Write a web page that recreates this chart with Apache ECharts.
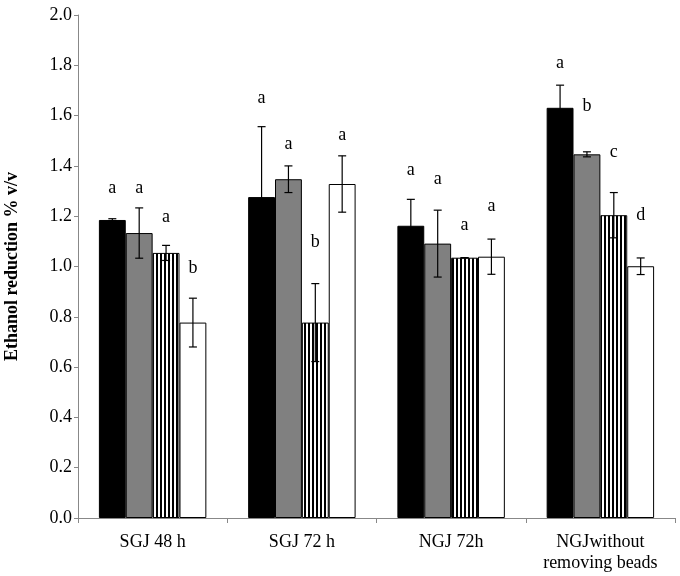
<!DOCTYPE html>
<html>
<head>
<meta charset="utf-8">
<script src="https://cdn.jsdelivr.net/npm/echarts@6/dist/echarts.min.js"></script>
<style>
  html, body { margin: 0; padding: 0; background: #fff; }
  #chart { width: 680px; height: 576px; }
</style>
</head>
<body>
<div id="chart"></div>
<script>
// categories on the x axis
const categories = ['SGJ 48 h', 'SGJ 72 h', 'NGJ 72h', 'NGJwithout\nremoving beads'];

// four treatments per group: black, gray, striped, white
const blackVals = [1.185, 1.276, 1.162, 1.631];
const grayVals = [1.133, 1.347, 1.091, 1.446];
const stripeVals = [1.054, 0.777, 1.035, 1.204];
const whiteVals = [0.777, 1.328, 1.039, 1.001];

// error (+/-) for each bar
const blackErr = [0.005, 0.28, 0.105, 0.09];
const grayErr = [0.1, 0.053, 0.133, 0.01];
const stripeErr = [0.03, 0.155, 0.0, 0.09];
const whiteErr = [0.097, 0.112, 0.07, 0.033];

// significance letters and the height they sit at
const blackLetters = ['a', 'a', 'a', 'a'];
const grayLetters = ['a', 'a', 'a', 'b'];
const stripeLetters = ['a', 'b', 'a', 'c'];
const whiteLetters = ['b', 'a', 'a', 'd'];
const blackLetterY = [1.312, 1.667, 1.384, 1.81];
const grayLetterY = [1.312, 1.487, 1.347, 1.638];
const stripeLetterY = [1.197, 1.097, 1.165, 1.456];
const whiteLetterY = [0.994, 1.52, 1.238, 1.205];

// y axis ticks
const yMin = 0, yMax = 2, yStep = 0.2;

const FONT = '"Times New Roman", "Liberation Serif", serif';
const GAP = 0.28; // barCategoryGap as a fraction

// vertical stripes pattern
const stripeCanvas = document.createElement('canvas');
stripeCanvas.width = 4;
stripeCanvas.height = 4;
const sctx = stripeCanvas.getContext('2d');
sctx.fillStyle = '#fff';
sctx.fillRect(0, 0, 4, 4);
sctx.fillStyle = '#000';
sctx.fillRect(0, 0, 2, 4);

const seriesDefs = [
  { vals: blackVals, err: blackErr, letters: blackLetters, ly: blackLetterY, color: '#000000' },
  { vals: grayVals, err: grayErr, letters: grayLetters, ly: grayLetterY, color: '#808080' },
  { vals: stripeVals, err: stripeErr, letters: stripeLetters, ly: stripeLetterY,
    color: { image: stripeCanvas, repeat: 'repeat' } },
  { vals: whiteVals, err: whiteErr, letters: whiteLetters, ly: whiteLetterY, color: '#ffffff' }
];

// x centre of bar k within a category band
function barX(api, catIdx, k) {
  const band = api.size([1, 0])[0];
  const w = band * (1 - GAP) / 4;
  const c = api.coord([catIdx, 0])[0];
  return c + (k - 1.5) * w;
}

const series = [];
seriesDefs.forEach((s, k) => {
  series.push({
    type: 'bar',
    data: s.vals,
    barGap: 0,
    barCategoryGap: (GAP * 100) + '%',
    itemStyle: { color: s.color, borderColor: '#000', borderWidth: 1 },
    z: 2
  });
});

// error bars
seriesDefs.forEach((s, k) => {
  series.push({
    type: 'custom',
    z: 5,
    data: s.vals.map((v, i) => [i, v - s.err[i], v + s.err[i]]),
    renderItem: function (params, api) {
      const i = api.value(0);
      const bx = barX(api, i, k);
      const lo = api.coord([i, api.value(1)])[1];
      const hi = api.coord([i, api.value(2)])[1];
      const cap = 4;
      const style = { stroke: '#000', lineWidth: 1.2 };
      return {
        type: 'group',
        children: [
          { type: 'line', shape: { x1: bx, y1: lo, x2: bx, y2: hi }, style: style },
          { type: 'line', shape: { x1: bx - cap, y1: hi, x2: bx + cap, y2: hi }, style: style },
          { type: 'line', shape: { x1: bx - cap, y1: lo, x2: bx + cap, y2: lo }, style: style }
        ]
      };
    }
  });
});

// letters
seriesDefs.forEach((s, k) => {
  series.push({
    type: 'custom',
    z: 6,
    data: s.ly.map((v, i) => [i, v]),
    renderItem: function (params, api) {
      const i = api.value(0);
      const bx = barX(api, i, k);
      const y = api.coord([i, api.value(1)])[1];
      return {
        type: 'text',
        x: bx,
        y: y,
        style: {
          text: s.letters[i],
          fill: '#000',
          fontFamily: FONT,
          fontSize: 18,
          align: 'center',
          verticalAlign: 'middle'
        }
      };
    }
  });
});

const chart = echarts.init(document.getElementById('chart'));
chart.setOption({
  animation: false,
  backgroundColor: '#fff',
  textStyle: { fontFamily: FONT },
  grid: { left: 78, right: 5, top: 15, bottom: 58, containLabel: false, outerBoundsMode: 'none' },
  xAxis: {
    type: 'category',
    data: categories,
    axisLine: { lineStyle: { color: '#888', width: 1 } },
    axisTick: { show: true, length: 5, alignWithLabel: false, lineStyle: { color: '#888' } },
    axisLabel: { color: '#000', fontFamily: FONT, fontSize: 18, margin: 14, lineHeight: 21, interval: 0 }
  },
  yAxis: {
    type: 'value',
    min: yMin,
    max: yMax,
    interval: yStep,
    name: 'Ethanol reduction % v/v',
    nameLocation: 'middle',
    nameGap: 57,
    nameTextStyle: { color: '#000', fontFamily: FONT, fontSize: 18, fontWeight: 'bold' },
    axisLine: { show: true, lineStyle: { color: '#888', width: 1 } },
    axisTick: { show: true, length: 4, lineStyle: { color: '#888' } },
    splitLine: { show: false },
    axisLabel: {
      color: '#000', fontFamily: FONT, fontSize: 18, margin: 6,
      formatter: v => v.toFixed(1)
    }
  },
  series: series
});
</script>
</body>
</html>
